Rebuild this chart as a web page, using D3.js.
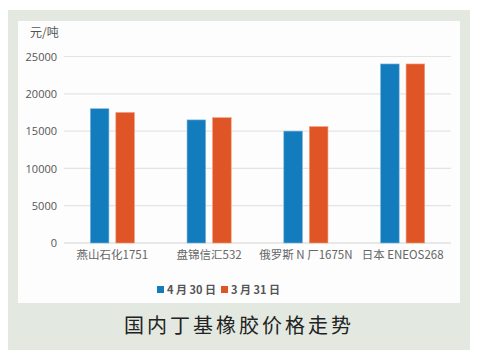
<!DOCTYPE html>
<html>
<head>
<meta charset="utf-8">
<script src="https://cdn.jsdelivr.net/npm/d3@7"></script>
<style>
html,body{margin:0;padding:0;background:#ffffff;}
svg{display:block;}
</style>
</head>
<body>
<script>
const categories = ["燕山石化1751", "盘锦信汇532", "俄罗斯 N 厂1675N", "日本 ENEOS268"];
const seriesNames = ["4 月 30 日", "3 月 31 日"];
const apr30 = [18000, 16500, 15000, 24000];
const mar31 = [17500, 16800, 15600, 24000];
const yTicks = [0, 5000, 10000, 15000, 20000, 25000];
const unitLabel = "元/吨";
const title = "国内丁基橡胶价格走势";

(function () {
const W = 479, H = 355;
const colors = ["#137cbd", "#e05526"];
const svg = d3.select("body").append("svg").attr("width", W).attr("height", H);

// frame
svg.append("rect").attr("x", 8).attr("y", 10).attr("width", 462).attr("height", 340).attr("fill", "#e3e9e1");
svg.append("rect").attr("x", 18).attr("y", 21).attr("width", 442).attr("height", 282).attr("fill", "#fdfdfd");

const pLeft = 64, pRight = 451, pTop = 56.5, pBottom = 243;
const x = d3.scaleBand().domain(categories).range([pLeft, pRight]).padding(0);
const y = d3.scaleLinear().domain([0, 25000]).range([pBottom, pTop]);

// grid
svg.append("g").selectAll("line").data(yTicks).join("line")
  .attr("x1", pLeft).attr("x2", pRight)
  .attr("y1", d => y(d)).attr("y2", d => y(d))
  .attr("stroke", d => d === 0 ? "#d4d4d4" : "#e6e4e2").attr("stroke-width", 1.2);

// y axis labels
const yAxis = d3.axisLeft(y).tickValues(yTicks).tickSize(0).tickPadding(0).tickFormat(d3.format("d"));
const ya = svg.append("g").attr("transform", `translate(${pLeft - 7},0)`).call(yAxis);
ya.select(".domain").remove();
ya.selectAll("text").attr("font-family", "'Open Sans', 'Liberation Sans', sans-serif")
  .attr("font-size", 11).attr("fill", "#555").attr("dy", "0.35em");

svg.append("text").attr("x", 30).attr("y", 37).text(unitLabel)
  .attr("font-family", "'Noto Sans CJK SC', sans-serif").attr("font-size", 12).attr("fill", "#555");

// bars
const x1 = d3.scaleBand().domain([0, 1]).range([0, x.bandwidth()]).paddingInner(0.27).paddingOuter(1.03);
const series = [apr30, mar31];
series.forEach((vals, si) => {
  svg.append("g").selectAll("rect").data(vals).join("rect")
    .attr("x", (d, i) => x(categories[i]) + x1(si))
    .attr("width", x1.bandwidth())
    .attr("y", d => y(d))
    .attr("height", d => pBottom - y(d))
    .attr("fill", colors[si])
    .attr("stroke", si === 0 ? "#7fb6dc" : "#f0a07e").attr("stroke-width", 0.6);
});

// x axis labels
const xAxis = d3.axisBottom(x).tickSize(0).tickPadding(0);
const xa = svg.append("g").attr("transform", `translate(0,${pBottom + 12})`).call(xAxis);
xa.select(".domain").remove();
xa.selectAll("text").attr("font-family", "'Noto Sans CJK SC', sans-serif")
  .attr("font-size", 11.5).attr("fill", "#666").attr("dy", "0.35em");

// legend
const legendX = [157, 221];
seriesNames.forEach((n, i) => {
  const g = svg.append("g").attr("transform", `translate(${legendX[i]},290)`);
  g.append("rect").attr("x", 0).attr("y", -4).attr("width", 7).attr("height", 7).attr("fill", colors[i]);
  g.append("text").attr("x", 10).attr("y", 0).attr("dy", "0.35em").text(n)
    .attr("font-family", "'Noto Sans CJK SC', sans-serif").attr("font-size", 11).attr("font-weight", "bold").attr("fill", "#555");
});

// title
svg.append("text").attr("x", 239).attr("y", 326).attr("text-anchor", "middle").attr("dy", "0.35em")
  .text(title).attr("font-family", "'Noto Sans CJK SC', sans-serif").attr("font-size", 20)
  .attr("letter-spacing", 3).attr("fill", "#222");
})();
</script>
</body>
</html>
